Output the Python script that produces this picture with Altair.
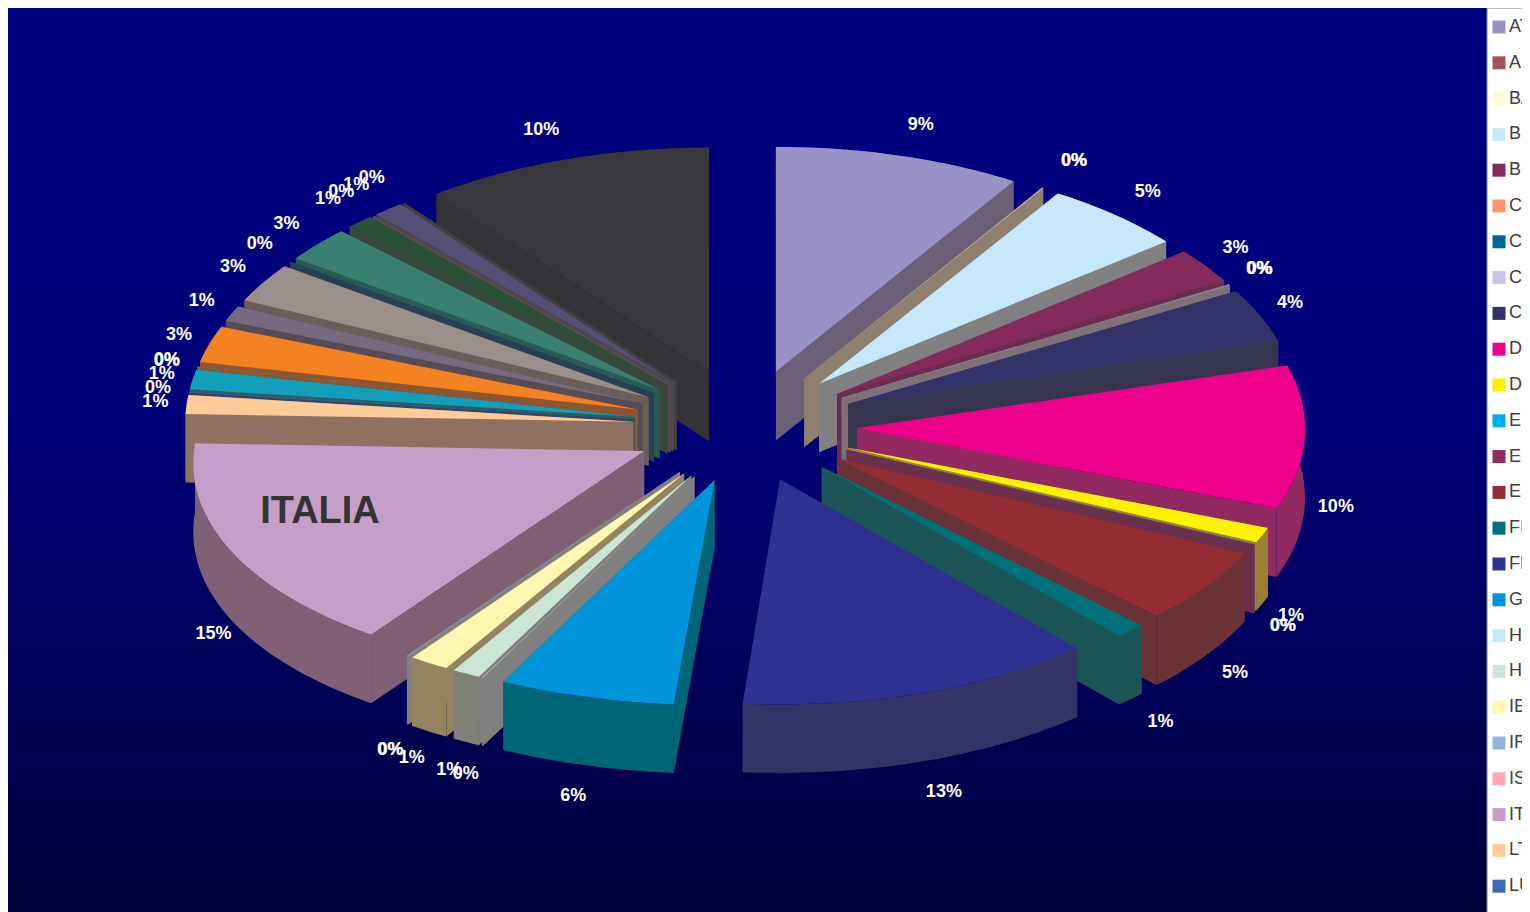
import math
import altair as alt
import pandas as pd

NAMES = ["AT","AL","BA","BE","BG","CH","CS","CY","CZ","DE","DK","EE","EG","ES","FI","FR","GR","HR","HU","IE","IR","IS","IT","LT","LU",
         "LV","MA","MK","NL","NO","PL","PT","RO","RU","SE","SI","SK","UK"]
VALUES = [8.9,0.02,0.02,5.16,2.5,0.02,0.02,0.02,3.84,10.3,1.1,0.02,0.02,5.5,1.1,12.79,6.03,0.02,0.98,1.4,0.02,0.02,15.75,1.35,0.05,
          1.4,0.03,0.03,2.6,1.1,2.8,0.03,2.5,1.0,0.03,1.1,0.03,10.41]
LABELS = ["9%","0%","0%","5%","3%","0%","0%","0%","4%","10%","1%","0%","0%","5%","1%","13%","6%","0%","1%","1%","0%","0%","15%","1%","0%",
          "1%","0%","0%","3%","1%","3%","0%","3%","1%","0%","1%","0%","10%"]
TOPS = ["#9A94C6","#A5505F","#FFFBD6","#C6E8FA","#842A5C","#FF9474","#006699","#C8C4E4","#33336A","#EC008C","#FFF200","#00AEEF","#932A62",
        "#932D33","#00717A","#2E3192","#0095DA","#C6E8FA","#CCE6D6","#FFF6B0","#93B4DE","#FFA8B0","#C69FC8","#FFCC99","#3D6AB3",
        "#129FBC","#8A6A3A","#6A7A4A","#F58220","#776A80","#9A8F8A","#2A4A60","#3A8072","#2A5038","#5A4A50","#554F75","#444444","#38383C"]
SIDES = ["#6B6075","#8F7F6F","#8F7F6F","#808080","#6A2D50","#807078","#807078","#807078","#353550","#922A62","#998033","#6A5060","#6A3050",
         "#6B3337","#1C5556","#333366","#006575","#808080","#808078","#94835F","#808080","#808078","#806075","#907060","#334466",
         "#2A6060","#8F5530","#6A6A40","#8F5530","#554C58","#6A5E58","#284055","#2A5A55","#38483C","#604850","#4A4650","#444040","#333338"]
LEGEND_SHOWN = NAMES[:25]

W, H = 1514, 904
CX, CY, A, B, EXPL, DEPTH = 745 - 8, 426 - 8, 448.0, 225.0, 0.25, 68.5
PERSP_LEFT, PERSP_RIGHT = 0.045, 0.005


def stretch(x, y):
    return 1 + (PERSP_RIGHT if x > 0 else PERSP_LEFT) * max(0.0, -y)


def point(theta, r, phi, dz=0.0):
    t, p = math.radians(theta), math.radians(phi)
    x = r * math.sin(t) + EXPL * math.sin(p)
    y = r * math.cos(t) + EXPL * math.cos(p)
    return [CX + A * x * stretch(x, y), CY - B * y + dz]


def feature(ring, name, color):
    ring = ring + [ring[0]]
    return {"type": "Feature", "properties": {"name": name, "shade": color},
            "geometry": {"type": "Polygon", "coordinates": [ring]}}


total = sum(VALUES)
spans, cum = [], 0.0
for v in VALUES:
    spans.append((cum / total * 360, (cum + v) / total * 360))
    cum += v

top_feats, side_feats, label_rows = [], [], []
order = sorted(range(len(NAMES)), key=lambda i: -math.cos(math.radians(sum(spans[i]) / 2)))
for i in order:
    a0, a1 = spans[i]
    phi = (a0 + a1) / 2
    n = max(2, int(a1 - a0) + 2)
    arc = [a0 + (a1 - a0) * k / (n - 1) for k in range(n)]
    upper = [point(t, 1, phi) for t in arc]
    lower = [point(t, 1, phi, DEPTH) for t in arc]
    tip, tip_low = point(0, 0, phi), point(0, 0, phi, DEPTH)
    side_feats.append(feature([tip, upper[0], lower[0], tip_low], NAMES[i], SIDES[i]))
    side_feats.append(feature([tip, upper[-1], lower[-1], tip_low], NAMES[i], SIDES[i]))
    side_feats.append(feature(upper + lower[::-1], NAMES[i], SIDES[i]))
    top_feats.append(feature([tip] + upper, NAMES[i], TOPS[i]))
    t = math.radians(phi)
    gx = 1.32 + 0.12 * math.cos(t) ** 4
    label_rows.append({"x": CX + A * gx * math.sin(t),
                       "y": CY - B * 1.39 * math.cos(t) + (DEPTH if math.cos(t) < 0 else 0),
                       "label": LABELS[i]})

def geo(feats):
    return alt.Data(values={"type": "FeatureCollection", "features": feats},
                    format=alt.DataFormat(property="features"))

one = pd.DataFrame({"a": [0]})
background = alt.Chart(one).mark_rect(
    color=alt.Gradient(gradient="linear", x1=0, x2=0, y1=0, y2=1,
                       stops=[alt.GradientStop(color="#000080", offset=0),
                              alt.GradientStop(color="#00007A", offset=0.45),
                              alt.GradientStop(color="#00003C", offset=1)])
).encode(x=alt.value(0), x2=alt.value(W), y=alt.value(0), y2=alt.value(H))

panel = alt.Chart(one).mark_rect(color="#FFFFFF", stroke="#808080", strokeWidth=1).encode(
    x=alt.value(1479), x2=alt.value(W + 4), y=alt.value(0), y2=alt.value(H + 4))

sides = alt.Chart(geo(side_feats)).mark_geoshape(strokeWidth=0).encode(
    fill=alt.Fill("properties.shade:N", scale=None)
).project(type="identity", scale=1, translate=[0, 0])

tops = alt.Chart(geo(top_feats)).mark_geoshape(strokeWidth=0).encode(
    color=alt.Color("properties.name:N",
                    scale=alt.Scale(domain=NAMES, range=TOPS),
                    legend=alt.Legend(values=LEGEND_SHOWN, orient="none", legendX=1482, legendY=10,
                                      title=None, symbolType="square", symbolSize=169, symbolStrokeWidth=0,
                                      rowPadding=17.8, labelFont="Liberation Sans", labelFontSize=18,
                                      labelColor="#404040", labelOffset=1, padding=0, zindex=1,
                                      labelLimit=200, symbolOpacity=1))
).project(type="identity", scale=1, translate=[0, 0])

xs = alt.X("x:Q", scale=alt.Scale(domain=[0, W], nice=False, zero=False), axis=None)
ys = alt.Y("y:Q", scale=alt.Scale(domain=[H, 0], nice=False, zero=False), axis=None)

texts = alt.Chart(pd.DataFrame(label_rows)).mark_text(
    font="Liberation Sans", fontWeight="bold", fontSize=18, color="#FFFFFF", baseline="middle", align="center"
).encode(x=xs, y=ys, text="label:N")

italia = alt.Chart(pd.DataFrame({"x": [320 - 8], "y": [512 - 8], "t": ["ITALIA"]})).mark_text(
    font="Liberation Sans", fontWeight="bold", fontSize=38, color="#333333", baseline="middle", align="center"
).encode(x=xs, y=ys, text="t:N")

chart = alt.layer(background, panel, sides, tops, texts, italia).properties(
    width=W, height=H, padding=0, autosize=alt.AutoSizeParams(type="none", contains="padding"),
    background="#C4E4E4"
).configure_view(stroke=None)

chart.save("out.html", embed_options={"renderer": "svg", "actions": False})
